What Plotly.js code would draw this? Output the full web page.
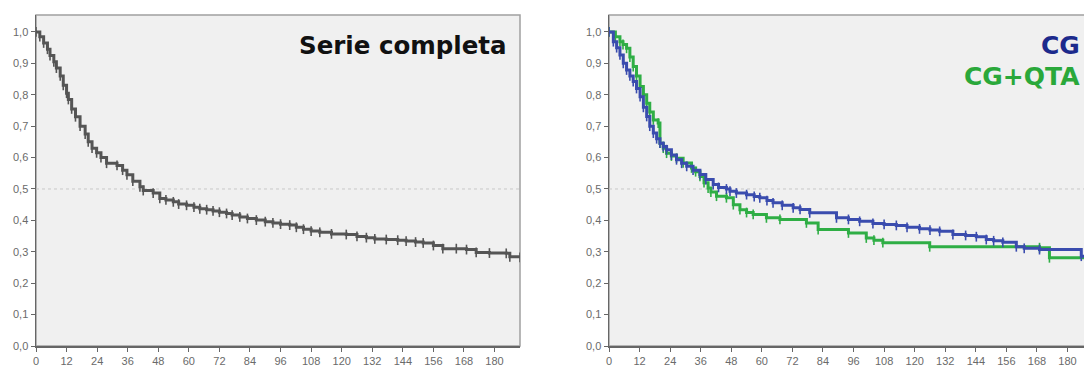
<!DOCTYPE html>
<html><head><meta charset="utf-8">
<script src="https://cdn.plot.ly/plotly-3.0.1.min.js"></script>
<style>html,body{margin:0;padding:0;overflow:hidden;background:#fff}#c{width:1100px;height:374px}</style>
</head><body><div id="c"></div>
<script>
// Serie completa
const allTime = [0,1.5,3,4.5,5.5,7,8,9.5,10.7,12,12.7,14,15.5,17.3,19.3,20.5,22,23.8,25.5,27.7,31.8,34,35.7,38,40.8,42.1,46,48.6,51,53.9,56,59.1,62,64.3,67,69.5,72,74.8,77,80,83,86.5,90,93,96,99.6,102.2,105,108,111.4,116,121.8,126,129.7,133,137.5,142,145.3,149,152,156,159.7,165,169,172.8,178,184.6,186,190];
const allSurv = [1.0,0.985,0.965,0.945,0.925,0.905,0.885,0.86,0.83,0.805,0.785,0.755,0.73,0.70,0.675,0.65,0.63,0.615,0.6,0.582,0.575,0.56,0.545,0.525,0.507,0.495,0.487,0.47,0.465,0.459,0.452,0.448,0.442,0.437,0.434,0.43,0.426,0.422,0.417,0.411,0.406,0.401,0.396,0.392,0.388,0.385,0.378,0.372,0.366,0.362,0.357,0.355,0.349,0.345,0.341,0.339,0.337,0.334,0.331,0.328,0.32,0.31,0.31,0.307,0.298,0.296,0.295,0.284,0.282];
// CG
const cgTime = [0,1.7,3,4.3,5.6,6.9,8.2,9.5,10.8,12.2,13.5,14.8,16,17.4,18.7,20,21.3,22.6,24.5,26.5,28.5,30.5,33,35.7,38,40.9,43,46.1,47.5,50,54,57,59.2,62,64.4,68,72.3,75,78.8,89.3,94,98.4,103.6,108,112.8,117,121.9,126,129.8,135,140,144.2,148.1,151,154.6,159.9,163,169,185.4,190];
const cgSurv = [1.0,0.969,0.95,0.927,0.90,0.879,0.86,0.842,0.82,0.794,0.76,0.731,0.70,0.678,0.66,0.646,0.635,0.625,0.608,0.593,0.582,0.572,0.56,0.546,0.53,0.514,0.505,0.50,0.493,0.487,0.482,0.476,0.472,0.463,0.456,0.448,0.44,0.435,0.424,0.408,0.403,0.397,0.39,0.387,0.384,0.378,0.373,0.369,0.365,0.355,0.352,0.348,0.339,0.335,0.33,0.316,0.311,0.307,0.286,0.286];
// CG+QTA
const qtaTime = [0,2.5,4.3,5.5,6.9,8.2,9.5,10.8,12.2,13.5,14.8,16,17.4,19.3,20,21.3,22.6,24.5,26.5,29.1,32.4,34,35.7,37.3,38.9,40,42.2,46.1,48.8,51.4,54,56.6,61.8,67.1,77.5,82.1,94,101,104,107.5,125.9,169,172.9,190];
const qtaSurv = [1.0,0.985,0.969,0.96,0.948,0.92,0.89,0.86,0.826,0.80,0.773,0.745,0.72,0.71,0.646,0.63,0.614,0.605,0.598,0.583,0.567,0.555,0.54,0.52,0.503,0.49,0.477,0.472,0.45,0.434,0.425,0.419,0.408,0.403,0.392,0.371,0.36,0.344,0.337,0.329,0.316,0.313,0.281,0.281];

const xTicks = [0,12,24,36,48,60,72,84,96,108,120,132,144,156,168,180];
const yTicks = [0,0.1,0.2,0.3,0.4,0.5,0.6,0.7,0.8,0.9,1.0];

const W = 1100, H = 374;
function step(x, y, color, xa, ya) {
  return {x: x, y: y, type: 'scatter', mode: 'lines+markers', line: {shape: 'hv', color: color, width: 3},
    marker: {symbol: 'line-ns', size: 7, line: {color: color, width: 1.6}}, xaxis: xa, yaxis: ya, hoverinfo: 'skip', showlegend: false};
}
const data = [
  step(allTime, allSurv, '#555555', 'x', 'y'),
  step(qtaTime, qtaSurv, '#2fae45', 'x2', 'y2'),
  step(cgTime, cgSurv, '#3a4cae', 'x2', 'y2')
];
const tf = {family: 'Liberation Sans, Arial, sans-serif', size: 11, color: '#6a6a6a'};
function xax(dom, anchor) {
  return {domain: dom, anchor: anchor, range: [0, 190], tickvals: xTicks, ticks: 'outside', ticklen: 4, tickcolor: '#666',
    showline: true, linecolor: '#666', linewidth: 1.5, showgrid: false, zeroline: false, tickfont: tf, fixedrange: true};
}
function yax(anchor) {
  return {domain: [1 - 346/H, 1 - 15/H], anchor: anchor, range: [0, 1.054], tickvals: yTicks, tickformat: '.1f', ticks: 'outside',
    ticklen: 4, tickcolor: '#666', showline: true, linecolor: '#666', linewidth: 1.5, showgrid: false, zeroline: false, tickfont: tf, fixedrange: true};
}
function frame(xr, yr) {
  return [
    {type: 'rect', xref: xr + ' domain', yref: yr + ' domain', x0: 0, x1: 1, y0: 0, y1: 1, line: {color: '#a0a0a0', width: 1.5}, layer: 'below'},
    {type: 'line', xref: xr + ' domain', yref: yr, x0: 0, x1: 1, y0: 0.5, y1: 0.5, line: {color: '#c8c8c8', width: 1, dash: 'dot'}, layer: 'below'}
  ];
}
const lf = 'DejaVu Sans, Liberation Sans, sans-serif';
const layout = {
  width: W, height: H, margin: {l: 0, r: 0, t: 0, b: 0}, paper_bgcolor: '#ffffff', plot_bgcolor: '#f0f0f0',
  separators: ',.', showlegend: false,
  xaxis: xax([36/W, 520/W], 'y'), yaxis: yax('x'),
  xaxis2: xax([609/W, 1093/W], 'y2'), yaxis2: yax('x2'),
  shapes: frame('x', 'y').concat(frame('x2', 'y2')),
  annotations: [
    {text: '<b>Serie completa</b>', xref: 'paper', yref: 'paper', x: 509/W, y: 1 - 45/H, xanchor: 'right', yanchor: 'middle', showarrow: false,
      font: {family: lf, size: 24.5, color: '#111'}},
    {text: '<b>CG</b>', xref: 'paper', yref: 'paper', x: 1082/W, y: 1 - 45/H, xanchor: 'right', yanchor: 'middle', showarrow: false,
      font: {family: lf, size: 25, color: '#1c2a8c'}},
    {text: '<b>CG+QTA</b>', xref: 'paper', yref: 'paper', x: 1082/W, y: 1 - 77/H, xanchor: 'right', yanchor: 'middle', showarrow: false,
      font: {family: lf, size: 25, color: '#2aa83a'}}
  ]
};
Plotly.newPlot('c', data, layout, {displayModeBar: false, staticPlot: true});
</script></body></html>
